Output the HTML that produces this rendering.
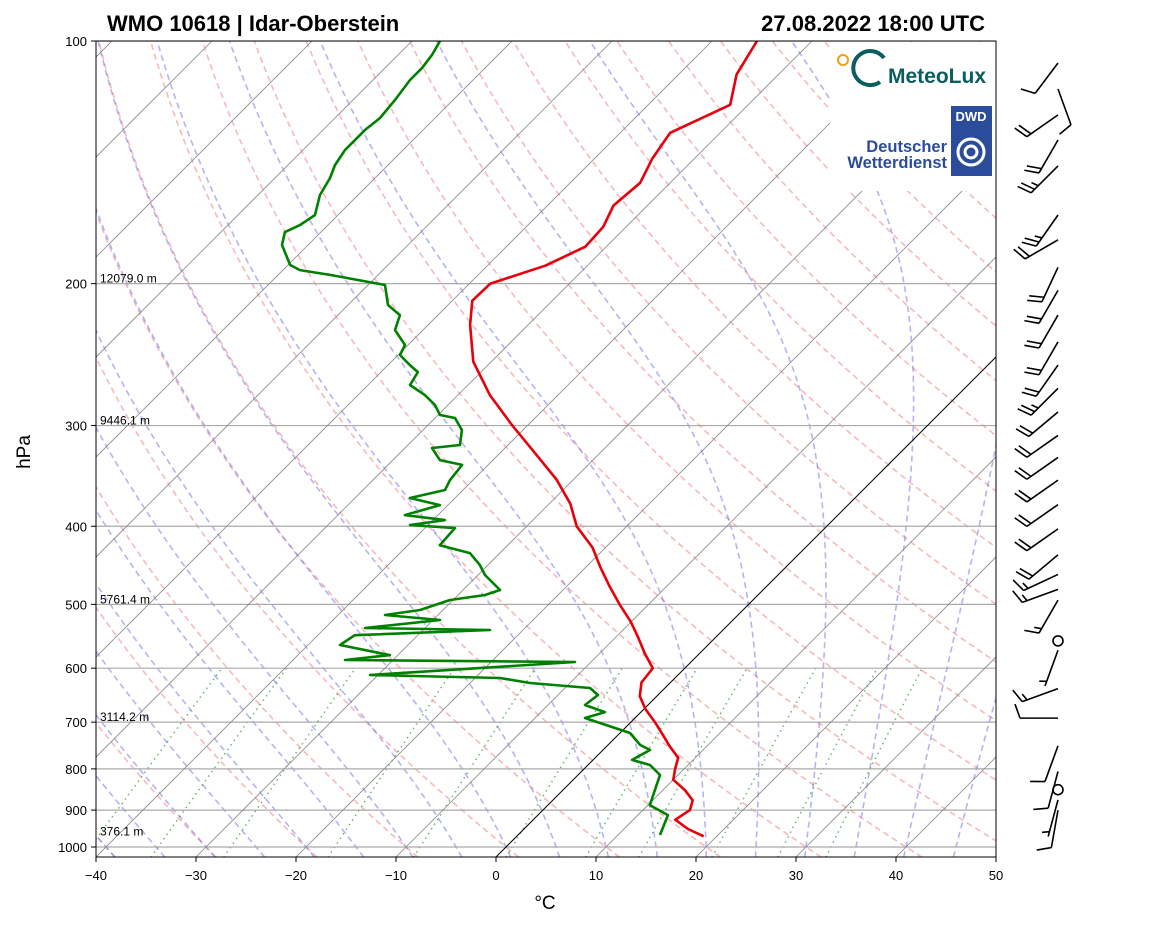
<!DOCTYPE html>
<html><head><meta charset="utf-8"><style>
html,body{margin:0;padding:0;background:#fff;}
svg text{font-family:"Liberation Sans",sans-serif;}
</style></head><body>
<svg id="chart" width="1160" height="925" viewBox="0 0 1160 925" xmlns="http://www.w3.org/2000/svg">
<defs><clipPath id="clip"><rect x="96" y="41" width="900" height="816"/></clipPath></defs>
<rect width="1160" height="925" fill="#fff"/>
<g id="bg" clip-path="url(#clip)"></g>
<g id="logos">
  <rect x="830" y="42" width="166" height="149" fill="#fff"/>
  <circle cx="843" cy="60" r="5" fill="none" stroke="#e8a317" stroke-width="2"/>
  <path d="M884 58 A17 17 0 1 0 880 82" fill="none" stroke="#0b5e5e" stroke-width="4"/>
  <text x="888" y="83" font-size="21" font-weight="bold" fill="#0b5e5e">MeteoLux</text>
  <text x="947" y="152" font-size="16.5" font-weight="bold" fill="#2b4c9b" text-anchor="end">Deutscher</text>
  <text x="947" y="168" font-size="16.5" font-weight="bold" fill="#2b4c9b" text-anchor="end">Wetterdienst</text>
  <rect x="951" y="106" width="41" height="70" fill="#2b4c9b"/>
  <text x="971" y="121" font-size="13" font-weight="bold" fill="#fff" text-anchor="middle">DWD</text>
  <circle cx="971" cy="152" r="13" fill="none" stroke="#fff" stroke-width="3"/>
  <circle cx="971" cy="152" r="6" fill="none" stroke="#fff" stroke-width="3"/>
</g>
<g id="fg" clip-path="url(#clip)"></g>
<g id="axes"></g>
<g id="barbs"></g>
<text x="107" y="31" font-size="22" font-weight="bold">WMO 10618 | Idar-Oberstein</text>
<text x="985" y="31" font-size="22" font-weight="bold" text-anchor="end">27.08.2022 18:00 UTC</text>
<text x="545" y="909" font-size="19" text-anchor="middle">°C</text>
<text x="30" y="452" font-size="19" text-anchor="middle" transform="rotate(-90 30 452)">hPa</text>
</svg>
<script>
const tempP=[970,950,925,900,875,850,825,800,775,750,725,700,675,650,625,600,575,550,525,500,475,450,425,400,375,350,325,300,275,250,225,210,200,190,180,170,160,150,140,130,120,110,100];
const tempT=[18.7,16.4,14.2,14.7,14.0,12.2,10.0,9.1,8.3,6.3,4.4,2.4,0.2,-1.7,-2.9,-3.2,-5.5,-7.7,-10.1,-12.9,-15.7,-18.5,-21.3,-25,-27.9,-31.7,-36.4,-41.5,-46.8,-51.8,-55.8,-58,-57.9,-54.2,-52.1,-52.3,-53.4,-53,-54.2,-55,-51.8,-54.2,-55.5];
const dewP=[100,104.1,108,111.8,118.4,124.6,128.9,136.5,142.5,147.9,155.3,164.4,169.2,172.6,179.1,189.6,192.4,195.1,200.8,212.6,218.8,228.3,238.3,245.2,252.4,257.5,267.2,275,282.9,291.1,293.6,303.9,317.1,319.9,331.1,335.7,350.4,360.6,369,376.5,387.4,393,398.6,402.1,422.2,431.9,446.9,459.8,479.9,486.8,493.8,508.1,515.4,522.8,534.9,538,546,561.6,577.9,586.1,589.5,611.8,617.1,626,635,647.8,666.6,680.1,691.8,722.1,747,758,779.8,791.2,814.2,849.9,887.1,912.8,966.2];
const dewT=[-87.2,-86.6,-86.3,-86.3,-85.8,-85.5,-85.8,-85.8,-85.3,-84.5,-83.8,-82.3,-82.8,-83.6,-82.6,-79.8,-78.3,-74.8,-68.3,-66.0,-63.8,-62.8,-60.3,-59.8,-57.8,-56.3,-55.8,-53.3,-51.3,-49.8,-48.0,-46.1,-44.8,-47.3,-45.3,-42.6,-42.3,-41.8,-44.5,-40.8,-43.3,-38.8,-41.8,-37.0,-36.8,-33.0,-30.8,-29.3,-26.3,-27.3,-30.3,-32.3,-35.3,-29.3,-36.0,-23.3,-36.3,-36.8,-30.8,-34.8,-11.6,-30.8,-17.5,-14.0,-7.5,-6.0,-6.3,-3.6,-5.0,1.0,3.2,4.7,3.9,6.2,8.2,9.2,10.2,13.0,14.2];
const barbP=[106.5,114.7,123.5,132.7,142.9,164.4,176.5,190.9,203.9,218.8,236.2,252.4,269.7,288.6,308.6,328.6,350.6,376,403,434,459,479,494,555,570,636,692,749,806,849,874,900];
const barbDir=[217,160,235,210,225,215,240,205,210,210,210,215,225,230,235,235,235,235,235,230,245,250,210,0,200,250,270,200,195,0,195,190];
const barbSpd=[10,10,20,20,25,25,20,20,20,20,20,20,25,20,20,20,20,20,20,20,15,15,15,0,5,15,10,10,10,0,5,10];
const xTicks=[-40,-30,-20,-10,0,10,20,30,40,50];
const yTicks=[100,200,300,400,500,600,700,800,900,1000];
const heightP=[200,300,500,700,970];
const heightLabels=["12079.0 m","9446.1 m","5761.4 m","3114.2 m","376.1 m"];

const NS="http://www.w3.org/2000/svg";
function Y(p){return 41+806*Math.log10(p/100);}
function X(t,p){return 96+(t+40)*10+(857-Y(p));}
function mk(tag,attrs,parent){const e=document.createElementNS(NS,tag);for(const k in attrs)e.setAttribute(k,attrs[k]);parent.appendChild(e);return e;}
function poly(pts){return pts.map(q=>q[0].toFixed(1)+","+q[1].toFixed(1)).join(" ");}
const bg=document.getElementById('bg'),fg=document.getElementById('fg'),ax=document.getElementById('axes'),bb=document.getElementById('barbs');
const PMAX=1030,P0=1000;
const plevels=[];for(let i=0;i<=120;i++)plevels.push(PMAX*Math.pow(100/PMAX,i/120));
// dry adiabats
for(let t0=-50;t0<=200;t0+=10){
  const pts=plevels.map(p=>[X((t0+273.15)*Math.pow(p/P0,0.2857)-273.15,p),Y(p)]);
  const e=mk('polyline',{points:poly(pts),fill:'none',stroke:'#f08080','stroke-opacity':'0.55','stroke-width':'1.6','stroke-dasharray':'6,4'},bg);
  
  
}
// moist adiabats
function es(tc){return 6.112*Math.exp(17.67*tc/(tc+243.5));}
function dTdp(T,p){const e=es(T-273.15),rs=0.622*e/(p-e);return (1/p)*(287.04*T+2.501e6*rs)/(1005.7+2.501e6*2.501e6*rs*0.622/(287.04*T*T));}
function integ(T,p0,p1,n){const dp=(p1-p0)/n;let p=p0;for(let k=0;k<n;k++){T+=dTdp(T,p+dp/2)*dp;p+=dp;}return T;}
for(let t0=-40;t0<=50;t0+=5){
  let T=integ(t0+273.15,P0,PMAX,20);const pts=[[X(T-273.15,PMAX),Y(PMAX)]];
  for(let i=1;i<plevels.length;i++){
    T=integ(T,plevels[i-1],plevels[i],5);
    pts.push([X(T-273.15,plevels[i]),Y(plevels[i])]);
  }
  const e=mk('polyline',{points:poly(pts),fill:'none',stroke:'#6a6ae8','stroke-opacity':'0.5','stroke-width':'1.6','stroke-dasharray':'6,4'},bg);
  
  
}
// mixing ratio
const wvals=[0.0001,0.0002,0.0004,0.001,0.002,0.004,0.007,0.01,0.016,0.024,0.032];
wvals.forEach(w=>{
  const pts=[];for(let p=PMAX;p>=600;p-=10){const e=p*w/(0.622+w),l=Math.log(e/6.112);pts.push([X(243.5*l/(17.67-l),p),Y(p)]);}
  const e=mk('polyline',{points:poly(pts),fill:'none',stroke:'#2e9a2e','stroke-opacity':'0.7','stroke-width':'1.5','stroke-dasharray':'1.5,4'},bg);
  
  
});
// isobars
yTicks.forEach(p=>{
  const e=mk('line',{x1:96,x2:996,y1:Y(p),y2:Y(p),stroke:'#aaa','stroke-width':'1.2'},bg);
  
  
});
// isotherms
for(let t=-150;t<=50;t+=10){
  const e=mk('line',{x1:X(t,PMAX),y1:Y(PMAX),x2:X(t,100),y2:Y(100),stroke:t===0?'#000':'#888','stroke-width':t===0?'1':'0.8'},bg);
  
  
}
// height labels
heightP.forEach((p,i)=>{
  const e=mk('text',{x:100,y:Y(p)-1,'font-size':'12'},fg);e.textContent=heightLabels[i];
  
  
});
// profiles
const tl=mk('polyline',{points:poly(tempP.map((p,i)=>[X(tempT[i],p),Y(p)])),fill:'none',stroke:'#e8000b','stroke-width':'2.6','stroke-linejoin':'round'},fg);


const dl=mk('polyline',{points:poly(dewP.map((p,i)=>[X(dewT[i],p),Y(p)])),fill:'none',stroke:'#008000','stroke-width':'2.6','stroke-linejoin':'round'},fg);


// axes frame
const fr=mk('rect',{x:96,y:41,width:900,height:816,fill:'none',stroke:'#000','stroke-width':'1'},ax);


xTicks.forEach(t=>{
  const x=96+(t+40)*10;
  mk('line',{x1:x,x2:x,y1:857,y2:862,stroke:'#000'},ax);
  const e=mk('text',{x:x,y:880,'font-size':'13','text-anchor':'middle'},ax);e.textContent=(t<0?'\u2212'+(-t):t);
  
  
});
yTicks.forEach(p=>{
  const y=Y(p);
  mk('line',{x1:91,x2:96,y1:y,y2:y,stroke:'#000'},ax);
  const e=mk('text',{x:87,y:y+5,'font-size':'13','text-anchor':'end'},ax);e.textContent=p;
  
  
});
// barbs
barbP.forEach((p,i)=>{
  const bx=1058,by=Y(p),spd=barbSpd[i],d=barbDir[i]*Math.PI/180;
  const g=mk('g',{stroke:'#000','stroke-width':'1.6',fill:'none'},bb);
  
  
  if(spd<2.5){mk('circle',{cx:bx,cy:by,r:5},g);return;}
  const ux=Math.sin(d),uy=-Math.cos(d),L=38;
  const ex=bx+L*ux,ey=by+L*uy;
  mk('line',{x1:bx,y1:by,x2:ex,y2:ey},g);
  const px=-uy,py=ux;
  let rem=Math.round(spd/5)*5,pos=0;
  while(rem>=10){const sx=ex-pos*ux,sy=ey-pos*uy;mk('line',{x1:sx,y1:sy,x2:sx+14*px+5*ux,y2:sy+14*py+5*uy},g);rem-=10;pos+=5;}
  if(rem>=5){if(pos===0)pos=5;const sx=ex-pos*ux,sy=ey-pos*uy;mk('line',{x1:sx,y1:sy,x2:sx+7*px+2.5*ux,y2:sy+7*py+2.5*uy},g);}
});
</script>
</body></html>
